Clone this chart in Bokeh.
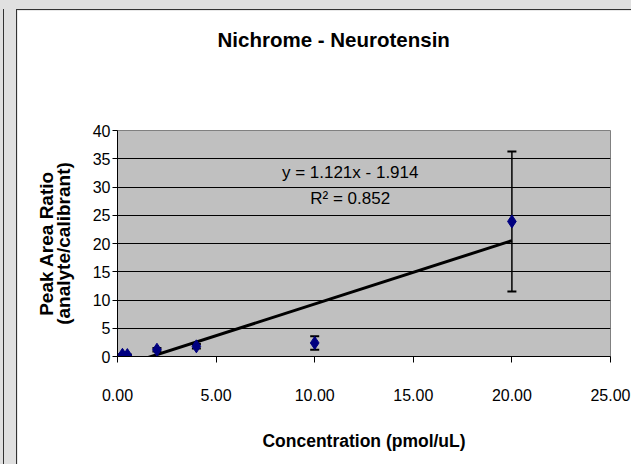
from bokeh.plotting import figure
from bokeh.models import (Range1d, FixedTicker, NumeralTickFormatter, Label, Whisker,
                          TeeHead, ColumnDataSource, GlobalInlineStyleSheet)
from bokeh.embed import file_html
from bokeh.resources import INLINE

# ---- data ----
conc = [0.25, 0.5, 2.0, 4.0, 10.0, 20.0]          # pmol/uL
ratio = [0.3, 0.25, 1.2, 1.8, 2.4, 23.9]           # peak area ratio
err = [0.1, 0.1, 0.3, 0.4, 1.2, 12.4]              # error bar half-widths
slope = 1.121
intercept = -1.914
r2 = 0.852
x_ticks = [0, 5, 10, 15, 20, 25]
y_ticks = [0, 5, 10, 15, 20, 25, 30, 35, 40]

title_txt = "Nichrome - Neurotensin"
x_label = "Concentration (pmol/uL)"
y_label = "Peak Area Ratio\n(analyte/calibrant)"

FONT = "Liberation Sans, Arial, sans-serif"

p = figure(width=614, height=454, x_range=Range1d(0, 25), y_range=Range1d(0, 40),
           output_backend="svg", toolbar_location=None,
           min_border_left=100, min_border_right=21, min_border_top=120, min_border_bottom=108)
page_css = (
    "html { background:"
    " linear-gradient(#333,#333) 3px 9px / 1px 100% no-repeat,"
    " linear-gradient(#333,#333) 16px 9px / 1px 100% no-repeat,"
    " linear-gradient(#333,#333) 16px 9px / 100% 1px no-repeat,"
    " #e0e0e0; overflow: hidden; }"
    " body { background: transparent; margin: 0 !important; padding: 10px 0 0 17px !important;"
    " overflow: hidden; }"
)
p.stylesheets = [GlobalInlineStyleSheet(css=page_css)]

p.background_fill_color = "#c0c0c0"
p.border_fill_color = "#ffffff"
p.outline_line_color = "#808080"
p.outline_line_width = 1

# title (trailing empty lines lift it towards the top of the chart area)
p.title.text = title_txt + "\n\n\n "
p.title.text_font = FONT
p.title.text_font_size = "20.5px"
p.title.text_font_style = "bold"
p.title.text_color = "#000000"
p.title.align = "left"
p.title.offset = 100
p.title.vertical_align = "top"
p.title.standoff = 18

# grid
p.xgrid.grid_line_color = None
p.ygrid.grid_line_color = "#000000"
p.ygrid.grid_line_width = 1
p.ygrid.ticker = FixedTicker(ticks=y_ticks)

# x axis
xa = p.xaxis[0]
xa.ticker = FixedTicker(ticks=x_ticks)
xa.formatter = NumeralTickFormatter(format="0.00")
xa.axis_line_color = "#000000"
xa.major_tick_line_color = "#000000"
xa.major_tick_out = 6
xa.major_tick_in = 0
xa.minor_tick_line_color = None
xa.major_label_text_font = FONT
xa.major_label_text_font_size = "16px"
xa.major_label_text_color = "#000000"
xa.major_label_standoff = 26
xa.axis_label = x_label
xa.axis_label_text_font = FONT
xa.axis_label_text_font_size = "17.5px"
xa.axis_label_text_font_style = "bold"
xa.axis_label_text_color = "#000000"
xa.axis_label_standoff = 27

# y axis
ya = p.yaxis[0]
ya.ticker = FixedTicker(ticks=y_ticks)
ya.axis_line_color = "#000000"
ya.major_tick_line_color = "#000000"
ya.major_tick_out = 5
ya.major_tick_in = 0
ya.minor_tick_line_color = None
ya.major_label_text_font = FONT
ya.major_label_text_font_size = "16px"
ya.major_label_text_color = "#000000"
ya.major_label_standoff = 2
ya.axis_label = y_label
ya.axis_label_text_font = FONT
ya.axis_label_text_font_size = "19px"
ya.axis_label_text_font_style = "bold"
ya.axis_label_text_color = "#000000"
ya.axis_label_text_line_height = 0.8
ya.axis_label_standoff = 16

# trendline from the fitted equation
tx = [min(conc), max(conc)]
ty = [slope * v + intercept for v in tx]
p.line(tx, ty, line_color="#000000", line_width=3)

# error bars
src = ColumnDataSource(dict(x=conc, y=ratio,
                            lo=[r - e for r, e in zip(ratio, err)],
                            hi=[r + e for r, e in zip(ratio, err)]))
wh = Whisker(source=src, base="x", lower="lo", upper="hi", line_color="#000000", line_width=1.5,
             upper_head=TeeHead(size=9, line_color="#000000", line_width=2),
             lower_head=TeeHead(size=9, line_color="#000000", line_width=2))
p.add_layout(wh)

# markers
p.scatter("x", "y", source=src, marker="diamond", size=13,
          fill_color="#000080", line_color="#000080")

# equation labels
p.add_layout(Label(x=11.8, y=32.6, text="y = %.3fx - %.3f" % (slope, -intercept),
                   text_align="center", text_baseline="middle",
                   text_font=FONT, text_font_size="17px", text_color="#000000"))
p.add_layout(Label(x=11.8, y=28.0, text="R² = %.3f" % r2,
                   text_align="center", text_baseline="middle",
                   text_font=FONT, text_font_size="17px", text_color="#000000"))

open("out.html", "w").write(file_html(p, INLINE))
